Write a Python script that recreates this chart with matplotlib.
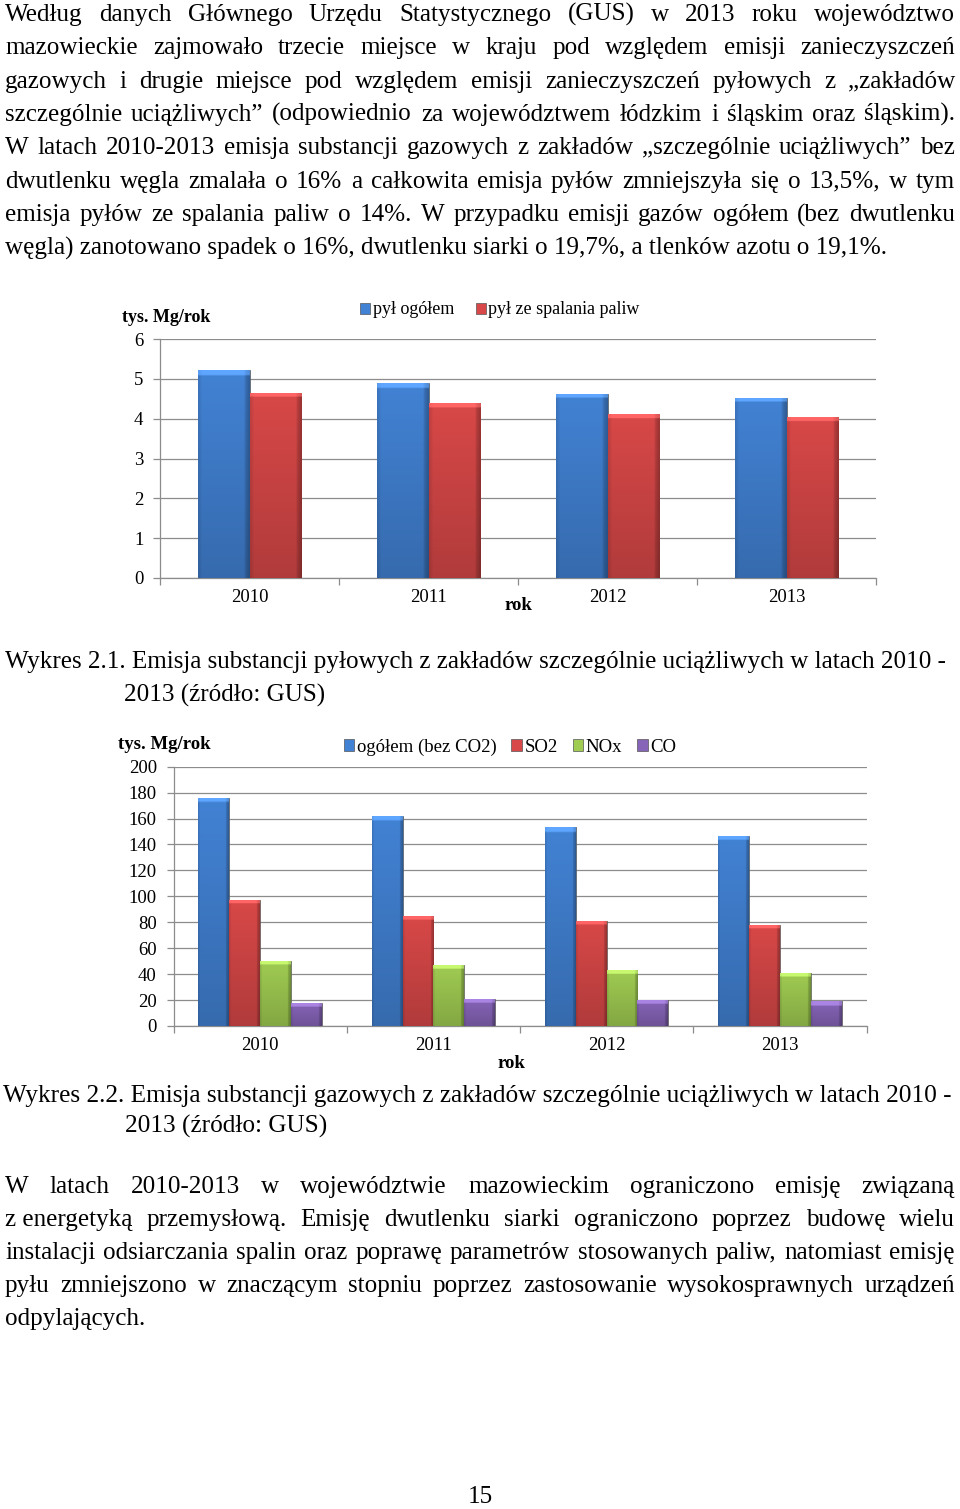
import matplotlib
matplotlib.use('Agg')
import matplotlib.pyplot as plt
import numpy as np
from matplotlib.colors import to_rgb

plt.rcParams['font.family'] = ['Liberation Serif', 'DejaVu Serif']

# ---------------- data ----------------
years = ['2010', '2011', '2012', '2013']

dust_labels = ['pył ogółem', 'pył ze spalania paliw']
dust_total = [5.21, 4.89, 4.62, 4.52]
dust_fuel = [4.65, 4.39, 4.11, 4.04]
dust_yticks = [0, 1, 2, 3, 4, 5, 6]

gas_labels = ['ogółem (bez CO2)', 'SO2', 'NOx', 'CO']
gas_total = [175.5, 162.2, 153.4, 146.7]
gas_so2 = [97.3, 84.9, 81.3, 78.2]
gas_nox = [50.4, 47.4, 43.2, 41.2]
gas_co = [17.8, 21.1, 20.1, 19.0]
gas_yticks = [0, 20, 40, 60, 80, 100, 120, 140, 160, 180, 200]

unit_label = 'tys. Mg/rok'
x_label = 'rok'

para1 = [
    'Według danych Głównego Urzędu Statystycznego (GUS) w 2013 roku województwo',
    'mazowieckie zajmowało trzecie miejsce w kraju pod względem emisji zanieczyszczeń',
    'gazowych i drugie miejsce pod względem emisji zanieczyszczeń pyłowych z „zakładów',
    'szczególnie uciążliwych” (odpowiednio za województwem łódzkim i śląskim oraz śląskim).',
    'W latach 2010-2013 emisja substancji gazowych z zakładów „szczególnie uciążliwych” bez',
    'dwutlenku węgla zmalała o 16% a całkowita emisja pyłów zmniejszyła się o 13,5%, w tym',
    'emisja pyłów ze spalania paliw o 14%. W przypadku emisji gazów ogółem (bez dwutlenku',
    'węgla) zanotowano spadek o 16%, dwutlenku siarki o 19,7%, a tlenków azotu o 19,1%.',
]
caption1 = ['Wykres 2.1. Emisja substancji pyłowych z zakładów szczególnie uciążliwych w latach 2010 -',
            '2013 (źródło: GUS)']
caption2 = ['Wykres 2.2. Emisja substancji gazowych z zakładów szczególnie uciążliwych w latach 2010 -',
            '2013 (źródło: GUS)']
para2 = [
    'W latach 2010-2013 w województwie mazowieckim ograniczono emisję związaną',
    'z\u00a0energetyką przemysłową. Emisję dwutlenku siarki ograniczono poprzez budowę wielu',
    'instalacji odsiarczania spalin oraz poprawę parametrów stosowanych paliw, natomiast emisję',
    'pyłu zmniejszono w znaczącym stopniu poprzez zastosowanie wysokosprawnych urządzeń',
    'odpylających.',
]
page_number = '15'

# ---------------- figure ----------------
W, H = 960, 1509
fig = plt.figure(figsize=(W / 100, H / 100), dpi=100)
renderer = fig.canvas.get_renderer()


def fx(px):
    return px / W


def fy(py):
    return 1 - py / H


def tw(s, size, **kw):
    t = fig.text(0, 0, s, fontsize=size, **kw)
    w = t.get_window_extent(renderer).width
    t.remove()
    return w


def fit_size(s, target, **kw):
    return 10 * target / tw(s, 10, **kw)


def draw_line(s, yc, size, x0=5, x1=955, justify=True):
    base = yc + 0.29 * size * 100 / 72
    if not justify:
        fig.text(fx(x0), fy(base), s, fontsize=size, va='baseline', ha='left')
        return
    words = s.split(' ')
    widths = [tw(w, size) for w in words]
    gap = (x1 - x0 - sum(widths)) / max(len(words) - 1, 1)
    x = x0
    for w, ww in zip(words, widths):
        fig.text(fx(x), fy(base), w, fontsize=size, va='baseline', ha='left')
        x += ww + gap


body_size = fit_size(para1[-1], 881)
for i, line in enumerate(para1):
    draw_line(line, 13.5 + 33.4 * i, body_size, justify=(i < len(para1) - 1))

cap1_size = fit_size(caption1[0], 945)
draw_line(caption1[0], 661, cap1_size, justify=False)
draw_line(caption1[1], 694, cap1_size, x0=124, justify=False)

cap2_size = fit_size(caption2[0], 949)
draw_line(caption2[0], 1095, cap2_size, x0=3, justify=False)
draw_line(caption2[1], 1125, cap2_size, x0=125, justify=False)

for i, line in enumerate(para2):
    draw_line(line, 1186 + 33 * i, body_size, justify=(i < len(para2) - 1))

fig.text(fx(480), fy(1497), page_number, fontsize=body_size, ha='center', va='center')

# ---------------- charts ----------------
GRID = '#8c8c8c'
COLORS = ['#4282D4', '#D84848', '#A0CC52', '#8664B8']


def shade(ax, bars, color):
    rgb = np.array(to_rgb(color))
    ppu = ax.transData.transform((0, 1))[1] - ax.transData.transform((0, 0))[1]
    for p in bars.patches:
        x0, y0, w, h = p.get_x(), p.get_y(), p.get_width(), p.get_height()
        hpx = max(h * ppu, 2)
        rows, cols = 120, 30
        v = np.linspace(1.0, 0.82, rows)[:, None]
        hx = np.ones(cols)
        hx[-3:] = [0.86, 0.79, 0.73]
        hx[:2] = [0.9, 0.95]
        img = rgb[None, None, :] * v[:, :, None] * hx[None, :, None]
        cap = int(round(rows * min(4.5 / hpx, 0.4)))
        if cap > 0:
            img[:cap] = np.clip(rgb * 1.12 + 0.08, 0, 1)[None, None, :] * hx[None, :, None] ** 0.5
        img = np.clip(img, 0, 1)
        im = ax.imshow(img, extent=[x0, x0 + w, y0, y0 + h], origin='upper',
                       aspect='auto', zorder=3, interpolation='bilinear')
        im.set_clip_path(p)


def style_axis(ax, yticks, nyears, tick_size):
    ax.set_xlim(-0.5, nyears - 0.5)
    ax.set_ylim(yticks[0], yticks[-1])
    ax.set_yticks(yticks)
    ax.set_xticks(np.arange(nyears + 1) - 0.5)
    ax.set_xticklabels([''] * (nyears + 1))
    ax.set_xticks(np.arange(nyears), minor=True)
    ax.set_xticklabels(years, minor=True)
    ax.tick_params(axis='x', which='major', direction='out', length=5, color=GRID, width=0.9)
    ax.tick_params(axis='x', which='minor', length=0, pad=8, labelsize=tick_size)
    ax.tick_params(axis='y', direction='out', length=5, color=GRID, width=0.9,
                   pad=7, labelsize=tick_size)
    for s in ['top', 'right']:
        ax.spines[s].set_visible(False)
    for s in ['left', 'bottom']:
        ax.spines[s].set_color(GRID)
        ax.spines[s].set_linewidth(0.9)
    ax.yaxis.grid(True, color=GRID, linewidth=0.9)
    ax.set_axisbelow(True)


# Chart 1
ax1 = fig.add_axes([fx(160), fy(578), (876 - 160) / W, (578 - 339) / H])
x = np.arange(len(years))
bw1 = 0.286
style_axis(ax1, dust_yticks, len(years), 13.5)
series1 = [dust_total, dust_fuel]
bars1 = []
for k, vals in enumerate(series1):
    b = ax1.bar(x + (k - 0.5) * bw1, vals, bw1, color=COLORS[k], edgecolor='#555555',
                linewidth=0.5, zorder=2, label=dust_labels[k])
    bars1.append(b)
    shade(ax1, b, COLORS[k])
ax1.set_xlim(-0.5, len(years) - 0.5)
ax1.set_ylim(dust_yticks[0], dust_yticks[-1])
ax1.legend(handles=bars1, loc='center', bbox_to_anchor=(fx(500), fy(310)),
           bbox_transform=fig.transFigure, ncol=2, frameon=False, fontsize=13,
           handlelength=0.55, handleheight=0.55, handletextpad=0.15, columnspacing=1.2,
           borderpad=0)
fig.text(fx(122), fy(317), unit_label, fontsize=13, fontweight='bold', va='center', ha='left')
fig.text(fx(518), fy(605), x_label, fontsize=13.5, fontweight='bold', va='center', ha='center')

# Chart 2
ax2 = fig.add_axes([fx(173.5), fy(1026), (866.5 - 173.5) / W, (1026 - 766.7) / H])
bw2 = 0.178
style_axis(ax2, gas_yticks, len(years), 13.5)
series2 = [gas_total, gas_so2, gas_nox, gas_co]
bars2 = []
for k, vals in enumerate(series2):
    b = ax2.bar(x + (k - 1.5) * bw2, vals, bw2, color=COLORS[k], edgecolor='#555555',
                linewidth=0.5, zorder=2, label=gas_labels[k])
    bars2.append(b)
    shade(ax2, b, COLORS[k])
ax2.set_xlim(-0.5, len(years) - 0.5)
ax2.set_ylim(gas_yticks[0], gas_yticks[-1])
ax2.legend(handles=bars2, loc='center', bbox_to_anchor=(fx(510), fy(747)),
           bbox_transform=fig.transFigure, ncol=4, frameon=False, fontsize=13.5,
           handlelength=0.55, handleheight=0.55, handletextpad=0.15, columnspacing=0.8,
           borderpad=0)
fig.text(fx(118), fy(744), unit_label, fontsize=13.5, fontweight='bold', va='center', ha='left')
fig.text(fx(511), fy(1064), x_label, fontsize=13.5, fontweight='bold', va='center', ha='center')

fig.savefig('out.png', dpi=100)
